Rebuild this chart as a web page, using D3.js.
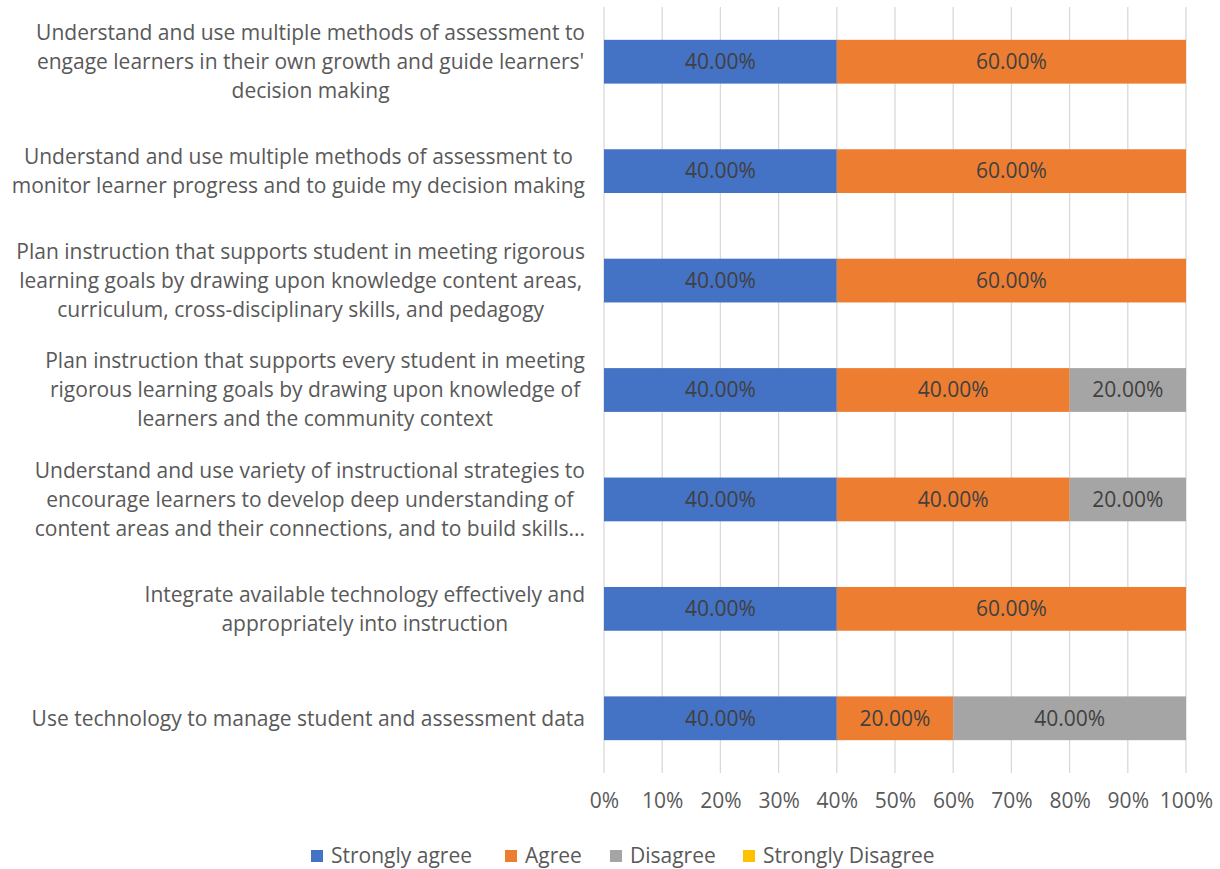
<!DOCTYPE html>
<html>
<head>
<meta charset="utf-8">
<script src="https://cdn.jsdelivr.net/npm/d3@7"></script>
<style>
  body { margin: 0; background: #fff; }
  svg text { font-family: "Open Sans", Lato, sans-serif; }
</style>
</head>
<body>
<div id="chart"></div>
<script>
// Survey: agreement levels per teaching standard (stacked 100% bars)
const categories = [
  "Understand and use multiple methods of assessment to|engage learners in their own growth and guide learners'|decision making",
  "Understand and use multiple methods of assessment to|monitor learner progress and to guide my decision making",
  "Plan instruction that supports student in meeting rigorous|learning goals by drawing upon knowledge content areas,|curriculum, cross-disciplinary skills, and pedagogy",
  "Plan instruction that supports every student in meeting|rigorous learning goals by drawing upon knowledge of|learners and the community context",
  "Understand and use variety of instructional strategies to|encourage learners to develop deep understanding of|content areas and their connections, and to build skills...",
  "Integrate available technology effectively and|appropriately into instruction",
  "Use technology to manage student and assessment data"
];
const seriesNames = ["Strongly agree", "Agree", "Disagree", "Strongly Disagree"];
const stronglyAgree = [40, 40, 40, 40, 40, 40, 40];
const agree = [60, 60, 60, 40, 40, 60, 20];
const disagree = [0, 0, 0, 20, 20, 0, 40];
const stronglyDisagree = [0, 0, 0, 0, 0, 0, 0];
const ticks = [0, 10, 20, 30, 40, 50, 60, 70, 80, 90, 100];
const colors = ["#4472C4", "#ED7D31", "#A5A5A5", "#FFC000"];

const width = 1220, height = 869;
const margin = { top: 7, right: 34, bottom: 96, left: 604 };
const W = width - margin.left - margin.right;
const H = height - margin.top - margin.bottom;
const fs = '21px';

const rows = categories.map((c, i) => ({
  cat: c, i,
  vals: [stronglyAgree[i], agree[i], disagree[i], stronglyDisagree[i]]
}));

const x = d3.scaleLinear().domain([0, 100]).range([0, W]);
const y = d3.scaleBand().domain(d3.range(categories.length)).range([0, H])
  .paddingInner(0.6).paddingOuter(0.3);

const svg = d3.select('#chart').append('svg')
  .attr('width', width).attr('height', height);
const g = svg.append('g').attr('transform', `translate(${margin.left},${margin.top})`);

// gridlines
g.selectAll('.grid').data(ticks).join('line')
  .attr('class', 'grid')
  .attr('x1', d => x(d)).attr('x2', d => x(d))
  .attr('y1', 0).attr('y2', H)
  .attr('stroke', '#d9d9d9').attr('stroke-width', 1.3);

// x axis labels
g.append('g').attr('transform', `translate(0,${H})`)
  .call(d3.axisBottom(x).tickValues(ticks).tickSize(0).tickPadding(20).tickFormat(d => d + '%'))
  .call(ax => ax.select('.domain').remove())
  .selectAll('text').attr('fill', '#595959').attr('font-size', fs)
  .style('font-family', '"Open Sans", sans-serif');

// stacked segments
const segs = [];
rows.forEach(r => {
  let acc = 0;
  r.vals.forEach((v, k) => {
    segs.push({ row: r.i, k, x0: acc, x1: acc + v, v });
    acc += v;
  });
});

g.selectAll('.seg').data(segs.filter(s => s.v > 0)).join('rect')
  .attr('class', 'seg')
  .attr('x', d => x(d.x0)).attr('y', d => y(d.row))
  .attr('width', d => x(d.x1) - x(d.x0)).attr('height', y.bandwidth())
  .attr('fill', d => colors[d.k]);

g.selectAll('.val').data(segs.filter(s => s.v > 0)).join('text')
  .attr('class', 'val')
  .attr('x', d => (x(d.x0) + x(d.x1)) / 2)
  .attr('y', d => y(d.row) + y.bandwidth() / 2)
  .attr('dy', '0.35em').attr('text-anchor', 'middle')
  .attr('fill', '#404040').attr('font-size', fs)
  .text(d => d.v.toFixed(2) + '%');

// category labels, lines centered within a right-aligned block
const lineH = 29;
rows.forEach(r => {
  const lines = r.cat.split('|');
  const t = svg.append('text').attr('font-size', fs).attr('fill', '#595959');
  const tspans = lines.map(l => t.append('tspan').text(l));
  const maxW = d3.max(tspans, s => s.node().getComputedTextLength());
  const cx = 585 - maxW / 2;
  const cy = margin.top + y(r.i) + y.bandwidth() / 2;
  tspans.forEach((s, j) => {
    s.attr('x', cx).attr('text-anchor', 'middle')
      .attr('y', cy + (j - (lines.length - 1) / 2) * lineH).attr('dy', '0.35em');
  });
});

// legend
const legendX = [311, 505, 610, 743];
const lg = svg.append('g').attr('transform', `translate(0,856)`);
seriesNames.forEach((n, k) => {
  lg.append('rect').attr('x', legendX[k]).attr('y', -6).attr('width', 12).attr('height', 12)
    .attr('fill', colors[k]);
  lg.append('text').attr('x', legendX[k] + 20).attr('y', 0).attr('dy', '0.35em')
    .attr('font-size', fs).attr('fill', '#595959').text(n);
});
</script>
</body>
</html>
